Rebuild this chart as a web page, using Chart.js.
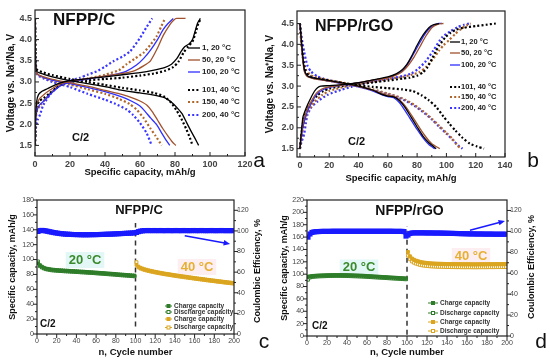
<!DOCTYPE html>
<html lang="en">
<head>
<meta charset="UTF-8">
<title>NFPP/C and NFPP/rGO</title>
<script src="https://cdn.jsdelivr.net/npm/chart.js"></script>
<style>
    body { margin: 0; background: #fff; }
    canvas { position: absolute; }
</style>
</head>
<body>
<canvas id="chartA" width="275" height="182" style="left:0;top:0"></canvas>
<canvas id="chartB" width="288" height="186" style="left:262px;top:0"></canvas>
<canvas id="chartC" width="275" height="181" style="left:0;top:182px"></canvas>
<canvas id="chartD" width="275" height="181" style="left:275px;top:182px"></canvas>

<script>
    // ---- legend labels (cycle, temperature) ----
    const cycleLabels = ['1, 20 °C', '50, 20 °C', '100, 20 °C', '101, 40 °C', '150, 40 °C', '200, 40 °C'];

    // ---- panel a: NFPP/C, [capacity mAh/g, voltage V] ----
    const aChg1 = [[0,1.5],[0.3,2.2],[1,2.55],[2,2.7],[4,2.78],[7,2.84],[10,2.9],[14,2.97],[20,3.03],[30,3.08],[40,3.12],[50,3.17],[60,3.22],[68,3.28],[74,3.34],[78,3.42],[81,3.55],[83.5,3.72],[85.5,3.83],[88,3.9],[90,4.0],[91.5,4.2],[93,4.4],[94.5,4.5]];
    const aDis1 = [[0,4.5],[0.3,3.5],[1,3.25],[5,3.18],[10,3.12],[20,3.03],[30,2.96],[40,2.89],[50,2.8],[60,2.74],[68,2.69],[74,2.63],[78,2.52],[81,2.4],[84,2.25],[86.5,2.05],[89,1.85],[91.5,1.66],[93.5,1.5]];
    const aChg50 = [[0,1.5],[0.3,2.1],[1,2.45],[2.5,2.6],[5,2.7],[9,2.82],[14,2.95],[20,3.02],[30,3.08],[40,3.14],[50,3.2],[57,3.27],[62,3.38],[66,3.5],[70,3.8],[73.3,4.1],[77,4.35],[79.5,4.47],[81,4.5],[86,4.5]];
    const aDis50 = [[0,4.5],[0.3,3.5],[1,3.2],[5,3.12],[10,3.06],[20,2.98],[30,2.9],[40,2.8],[50,2.7],[56,2.62],[60,2.55],[64,2.45],[67,2.3],[70,2.1],[73,1.9],[76,1.72],[78.5,1.58],[80.5,1.5]];
    const aChg100 = [[0,1.5],[0.3,2.0],[1,2.3],[2.5,2.45],[5,2.55],[9,2.72],[14,2.9],[18,2.98],[25,3.04],[35,3.1],[45,3.17],[52,3.25],[58,3.4],[62,3.55],[66,3.75],[70,4.0],[73.3,4.24],[76,4.38],[79,4.5]];
    const aDis100 = [[0,4.5],[0.3,3.5],[1,3.2],[5,3.1],[10,3.04],[20,2.96],[30,2.87],[40,2.77],[50,2.64],[55,2.55],[60,2.43],[63,2.3],[66,2.15],[69.5,1.99],[72,1.82],[75,1.62],[77,1.5]];
    const aChg101 = [[0,1.5],[0.3,2.1],[1,2.42],[2.5,2.55],[5,2.62],[8,2.72],[12,2.85],[16,2.95],[20,3.0],[30,3.04],[40,3.07],[50,3.1],[60,3.15],[68,3.2],[74,3.26],[79,3.35],[82,3.48],[85,3.7],[87.5,3.84],[90,3.95],[92,4.2],[93.5,4.4],[95,4.5]];
    const aDis101 = [[0,4.5],[0.3,3.6],[1,3.3],[5,3.22],[10,3.16],[20,3.07],[30,3.0],[40,2.93],[50,2.86],[60,2.8],[68,2.74],[74,2.65],[78,2.5],[81,2.32],[84,2.1],[86.5,1.88],[88.5,1.68],[90,1.5]];
    const aChg150 = [[0,1.5],[0.3,2.0],[1,2.3],[3,2.45],[6,2.6],[10,2.78],[15,2.93],[20,3.0],[30,3.08],[40,3.17],[48,3.28],[52.4,3.42],[57,3.55],[62,3.69],[66,3.88],[69.5,4.08],[72,4.3],[74.3,4.5]];
    const aDis150 = [[0,4.5],[0.3,3.5],[1,3.2],[5,3.1],[10,3.03],[20,2.94],[30,2.83],[40,2.72],[48,2.6],[54,2.48],[58,2.35],[62,2.15],[66,1.9],[69,1.72],[72.4,1.5]];
    const aChg200 = [[0,1.5],[0.5,1.9],[1.5,2.1],[2.9,2.23],[4.8,2.46],[8.6,2.7],[12.4,2.86],[16.2,2.98],[20,3.03],[25.7,3.1],[30,3.17],[35.2,3.25],[40,3.36],[44.8,3.49],[50,3.6],[54.3,3.72],[60,4.04],[63.5,4.28],[67,4.5]];
    const aDis200 = [[0,4.5],[0.3,3.5],[1,3.18],[5,3.08],[10,3.0],[20,2.88],[30,2.72],[40,2.58],[46,2.48],[52.4,2.35],[56,2.22],[60,2.03],[63.8,1.79],[66.7,1.5]];

    // ---- panel b: NFPP/rGO ----
    const bChg1 = [[0,1.5],[0.7,1.8],[2,2.25],[2.9,2.35],[5.2,2.55],[7.5,2.72],[9.8,2.87],[12,2.96],[14.3,3.0],[20,3.01],[30,3.04],[40,3.08],[50,3.15],[60,3.22],[66,3.3],[70,3.4],[73,3.52],[76,3.7],[80,3.98],[84,4.22],[88,4.4],[91,4.47],[95,4.5]];
    const bDis1 = [[0,4.5],[1,4.1],[2,3.7],[3,3.4],[5,3.25],[8,3.2],[12,3.18],[20,3.13],[30,3.07],[40,3.0],[50,2.9],[56,2.8],[60,2.76],[64,2.74],[68,2.65],[72,2.48],[76,2.25],[80,2.02],[84,1.8],[88,1.64],[93,1.5]];
    const bChg50 = [[0,1.5],[0.7,1.75],[2,2.1],[3,2.25],[5,2.45],[8,2.65],[11,2.82],[15,2.93],[20,2.98],[30,3.03],[40,3.08],[50,3.14],[60,3.2],[66,3.27],[70,3.35],[74,3.5],[78,3.7],[82,3.95],[86,4.2],[90,4.4],[94,4.48],[98,4.5]];
    const bDis50 = [[0,4.5],[1,4.0],[2,3.6],[3,3.35],[5,3.23],[8,3.19],[12,3.16],[20,3.12],[30,3.06],[40,2.99],[50,2.9],[56,2.82],[60,2.78],[65,2.74],[70,2.6],[74,2.42],[78,2.2],[82,1.98],[86,1.78],[90,1.62],[95.5,1.5]];
    const bChg100 = [[0,1.5],[0.7,1.7],[2,2.0],[3,2.15],[5,2.38],[8,2.6],[11,2.78],[15,2.9],[20,2.97],[30,3.03],[40,3.08],[50,3.14],[60,3.21],[66,3.28],[70,3.37],[74,3.55],[78,3.8],[82,4.05],[86,4.28],[90,4.43],[94,4.5],[97,4.5]];
    const bDis100 = [[0,4.5],[1,4.05],[2,3.65],[3,3.38],[5,3.24],[8,3.2],[12,3.17],[20,3.12],[30,3.05],[40,2.98],[50,2.88],[56,2.79],[60,2.75],[64,2.72],[68,2.6],[72,2.4],[76,2.18],[80,1.96],[84,1.76],[88,1.6],[92,1.5]];
    const bChg101 = [[0,1.5],[0.7,1.75],[2,2.1],[3,2.25],[5,2.45],[8,2.62],[12,2.78],[16,2.88],[20,2.94],[30,3.01],[40,3.05],[50,3.09],[60,3.13],[70,3.18],[75,3.2],[80,3.25],[84,3.33],[87,3.45],[90.4,3.67],[93,3.85],[95,3.97],[99.5,4.18],[103,4.28],[106.4,4.35],[112,4.4],[120,4.44],[127,4.47],[133.7,4.5]];
    const bDis101 = [[0,4.5],[1,4.1],[2,3.7],[3.5,3.4],[6,3.25],[9,3.2],[14,3.17],[20,3.13],[30,3.07],[40,3.02],[50,2.98],[60,2.95],[70,2.92],[77,2.88],[83,2.78],[88,2.66],[93,2.5],[98,2.27],[102,2.1],[106,1.94],[111,1.76],[116,1.62],[121,1.55],[125.7,1.5]];
    const bChg150 = [[0,1.5],[1,1.75],[2.5,2.05],[4,2.25],[6,2.42],[10,2.62],[15,2.78],[20,2.88],[30,2.98],[40,3.05],[50,3.11],[60,3.17],[70,3.22],[76,3.27],[81.3,3.33],[86,3.45],[90.4,3.63],[95,3.85],[98,3.98],[101.8,4.1],[106,4.25],[110,4.37],[114,4.46],[116.6,4.5]];
    const bDis150 = [[0,4.5],[1,4.0],[2.5,3.6],[4,3.4],[7,3.27],[10,3.22],[15,3.18],[20,3.14],[30,3.08],[40,3.0],[50,2.92],[60,2.82],[66,2.76],[72,2.67],[78,2.55],[84,2.4],[90,2.22],[95,2.05],[100,1.88],[104,1.74],[107,1.6],[109.8,1.5]];
    const bChg200 = [[0,1.5],[1,1.65],[2.9,1.85],[4,2.1],[5.2,2.32],[8,2.5],[12,2.63],[18.9,2.79],[28,2.91],[35,2.98],[40,3.03],[50,3.1],[60,3.17],[70,3.24],[76,3.3],[81,3.42],[86,3.6],[91,3.85],[97.3,4.18],[103,4.32],[108,4.42],[112,4.47],[115.5,4.5]];
    const bDis200 = [[0,4.5],[1,4.2],[2.9,3.82],[5,3.5],[7.5,3.35],[12,3.23],[16,3.18],[20,3.14],[30,3.06],[40,2.99],[50,2.9],[60,2.8],[66,2.74],[72,2.65],[78,2.53],[84,2.38],[90,2.2],[95,2.03],[100,1.86],[104,1.72],[108,1.58],[111,1.5]];

    // ---- panels c and d: cycling (every second cycle) ----
    const cyc20 = [1,3,5,7,9,11,13,15,17,19,21,23,25,27,29,31,33,35,37,39,41,43,45,47,49,51,53,55,57,59,61,63,65,67,69,71,73,75,77,79,81,83,85,87,89,91,93,95,97,99];
    const cyc40 = [101,103,105,107,109,111,113,115,117,119,121,123,125,127,129,131,133,135,137,139,141,143,145,147,149,151,153,155,157,159,161,163,165,167,169,171,173,175,177,179,181,183,185,187,189,191,193,195,197,199];

    const cChg20 = [95,92.5,90.5,89,88,87.5,87,86.5,86.3,86, 85.8,85.6,85.5,85.3,85.1,85,84.8,84.6,84.5,84.3, 84.2,84,83.8,83.7,83.5,83.3,83.1,83,82.8,82.6, 82.4,82.2,82,81.8,81.6,81.4,81.2,81,80.8,80.6, 80.3,80.1,79.9,79.7,79.5,79.3,79.1,78.9,78.7,78.5];
    const cDis20 = [97.5,91,89.3,88,87,86.5,86,85.5,85.3,85, 84.8,84.6,84.5,84.3,84.1,84,83.8,83.6,83.5,83.3, 83.2,83,82.8,82.7,82.5,82.3,82.1,82,81.8,81.6, 81.4,81.2,81,80.8,80.6,80.4,80.2,80,79.8,79.6, 79.3,79.1,78.9,78.7,78.5,78.3,78.1,77.9,77.7,77.5];
    const cChg40 = [93,90.5,89,88,87,86.3,85.6,85,84.4,83.8, 83.3,82.8,82.3,81.8,81.3,80.9,80.5,80.1,79.6,79.2, 78.8,78.4,78,77.6,77.2,76.9,76.5,76.1,75.8,75.4, 75,74.7,74.3,74,73.6,73.3,72.9,72.6,72.2,71.9, 71.6,71.2,70.9,70.6,70.2,69.9,69.6,69.3,69,68.6];
    const cDis40 = [96.5,89.5,88,87,86.1,85.4,84.7,84.1,83.5,82.9, 82.4,81.9,81.4,80.9,80.4,80,79.6,79.2,78.7,78.3, 77.9,77.5,77.1,76.7,76.3,76,75.6,75.2,74.9,74.5, 74.1,73.8,73.4,73.1,72.7,72.4,72,71.7,71.3,71, 70.7,70.3,70,69.7,69.3,69,68.7,68.4,68.1,67.7];
    const cCE20 = [99.5,100.3,100.5,100.3,100,99.6,99.2,98.8,98.4,98.1, 97.8,97.5,97.3,97.1,96.9,96.8,96.7,96.6,96.5,96.5, 96.4,96.4,96.3,96.3,96.3,96.3,96.3,96.4,96.4,96.4, 96.5,96.5,96.6,96.6,96.7,96.8,96.8,96.9,97,97.1, 97.2,97.3,97.4,97.5,97.6,97.7,97.8,97.9,98,98.2];
    const cCE40 = [98.5,99.3,99.8,100.1,100.3,100.3,100.4,100.3,100.3,100.4, 100.3,100.3,100.4,100.3,100.3,100.3,100.4,100.3,100.3,100.3, 100.4,100.3,100.3,100.3,100.4,100.3,100.3,100.3,100.3,100.4, 100.3,100.3,100.3,100.4,100.3,100.3,100.3,100.3,100.4,100.3, 100.3,100.3,100.3,100.4,100.3,100.3,100.3,100.3,100.3,100.3];

    const dChg20 = [96,96.5,97,97.3,97.6,97.8,98,98.1,98.2,98.3, 98.4,98.5,98.5,98.6,98.6,98.6,98.6,98.6,98.5,98.5, 98.4,98.3,98.2,98.1,98,97.9,97.7,97.6,97.4,97.2, 97,96.8,96.6,96.4,96.2,96,95.8,95.6,95.4,95.2, 95,94.8,94.6,94.4,94.2,94,93.8,93.6,93.4,93.2];
    const dDis20 = [91,94.5,95.5,95.8,96.1,96.3,96.5,96.6,96.7,96.8, 96.9,97,97,97.1,97.1,97.1,97.1,97.1,97,97, 96.9,96.8,96.7,96.6,96.5,96.4,96.2,96.1,95.9,95.7, 95.5,95.3,95.1,94.9,94.7,94.5,94.3,94.1,93.9,93.7, 93.5,93.3,93.1,92.9,92.7,92.5,92.3,92.1,91.9,91.7];
    const dChg40 = [136,129,125.5,123.5,122,121,120,119.3,118.8,118.4, 118,117.7,117.5,117.3,117.1,117,116.9,116.8,116.7,116.6, 116.5,116.5,116.4,116.4,116.3,116.3,116.3,116.2,116.2,116.2, 116.2,116.2,116.1,116.1,116.1,116.1,116.2,116.2,116.2,116.2, 116.3,116.3,116.3,116.3,116.4,116.4,116.4,116.5,116.5,116.5];
    const dDis40 = [130,124,120.5,118.5,117,116,115,114.3,113.8,113.4, 113,112.7,112.5,112.3,112.1,112,111.9,111.8,111.7,111.6, 111.5,111.5,111.4,111.4,111.3,111.3,111.3,111.2,111.2,111.2, 111.2,111.2,111.1,111.1,111.1,111.1,111.2,111.2,111.2,111.2, 111.3,111.3,111.3,111.3,111.4,111.4,111.4,111.5,111.5,111.5];
    const dCE20 = [94.5,97.5,99,99.5,99.7,99.8,99.9,100,100,100, 100,100,100.1,100.1,100.1,100.1,100.1,100.1,100.1,100.1, 100.1,100.1,100.1,100.1,100.1,100.1,100.1,100.1,100.1,100.1, 100.1,100.1,100.1,100.1,100.1,100.1,100.1,100.1,100.1,100.1, 100.1,100.1,100.1,100,100,100,100,100,99.8,95.5];
    const dCE40 = [96.5,98,98.5,98.6,98.6,98.6,98.6,98.6,98.6,98.5, 98.5,98.5,98.5,98.4,98.4,98.4,98.4,98.3,98.3,98.2, 98.2,98.1,98.1,98,98,97.9,97.9,97.8,97.8,97.7, 97.7,97.6,97.6,97.6,97.5,97.5,97.5,97.5,97.4,97.4, 97.4,97.4,97.4,97.3,97.3,97.3,97.3,97.3,97.3,97.3];

    // dashed divider between 20 and 40 °C, and the blue arrows [cycle, mAh/g]
    const splitCycle = 100;
    const cSplitRange = [10, 149];
    const dSplitRange = [2, 177];
    const cArrow = [[150, 132], [196, 121]];
    const dArrow = [[163, 171], [198, 186]];

    // tick values
    const aXTicks = [0, 20, 40, 60, 80, 100, 120];
    const bXTicks = [0, 20, 40, 60, 80, 100, 120, 140];
    const vTicks = [1.5, 2.0, 2.5, 3.0, 3.5, 4.0, 4.5];
    const cycTicks = [0, 20, 40, 60, 80, 100, 120, 140, 160, 180, 200];
    const cYTicks = [0, 20, 40, 60, 80, 100, 120, 140, 160, 180];
    const dYTicks = [0, 20, 40, 60, 80, 100, 120, 140, 160, 180, 200, 220];
    const ceTicks = [0, 20, 40, 60, 80, 100, 120];

    const FONT = 'Arial, "Liberation Sans", sans-serif';
    Chart.defaults.font.family = FONT;
    Chart.defaults.animation = false;
    Chart.defaults.plugins.legend.display = false;
    Chart.defaults.plugins.tooltip.enabled = false;

    const curveColors = ['#000000', '#a0522d', '#2f2fff', '#000000', '#b0662a', '#3a35ff'];
    const GREEN = '#2f7d2a', GOLD = '#dba520', BLUE = '#1a1aff';

    // frame, ticks, free texts, legends, arrows
    const panelDecor = {
        id: 'panelDecor',
        beforeDatasetsDraw(chart, args, o) {
            // pale highlight boxes behind the temperature labels
            const ctx = chart.ctx;
            (o.texts || []).filter(t => t.bg).forEach(t => {
                ctx.save();
                ctx.font = t.font;
                const w = ctx.measureText(t.text).width + 6;
                ctx.fillStyle = t.bg;
                ctx.fillRect(t.x - w / 2, t.y - 8, w, 16);
                ctx.restore();
            });
        },
        afterDraw(chart, args, o) {
            const ctx = chart.ctx, ca = chart.chartArea;
            ctx.save();
            ctx.strokeStyle = '#222';
            ctx.lineWidth = 1;
            const dir = o.tickDir || 1;
            Object.values(chart.scales).forEach(s => {
                const vals = s.ticks.map(t => t.value);
                const mark = (v, len) => {
                    const p = s.getPixelForValue(v);
                    ctx.beginPath();
                    if (s.axis === 'x') { ctx.moveTo(p, ca.bottom); ctx.lineTo(p, ca.bottom - len * dir); }
                    else if (s.position === 'left') { ctx.moveTo(ca.left, p); ctx.lineTo(ca.left + len * dir, p); }
                    else { ctx.moveTo(ca.right, p); ctx.lineTo(ca.right - len * dir, p); }
                    ctx.stroke();
                };
                vals.forEach(v => mark(v, 4));
                for (let i = 0; i < vals.length - 1; i++) mark((vals[i] + vals[i + 1]) / 2, 2);
            });
            ctx.lineWidth = 1.2;
            ctx.strokeRect(ca.left, ca.top, ca.right - ca.left, ca.bottom - ca.top);

            (o.texts || []).forEach(t => {
                ctx.save();
                ctx.font = t.font;
                ctx.fillStyle = t.color || '#111';
                ctx.textAlign = t.align || 'left';
                ctx.textBaseline = 'middle';
                ctx.translate(t.x, t.y);
                if (t.rot) ctx.rotate(t.rot);
                ctx.fillText(t.text, 0, 0);
                ctx.restore();
            });

            const lg = o.legend;
            if (lg) {
                lg.rows.forEach(r => {
                    const ds = chart.data.datasets[r.ds];
                    ctx.save();
                    ctx.strokeStyle = ds.borderColor;
                    ctx.lineWidth = lg.lineWidth || ds.borderWidth;
                    ctx.setLineDash(ds.borderDash || []);
                    ctx.beginPath();
                    ctx.moveTo(lg.x0, r.y);
                    ctx.lineTo(lg.x1, r.y);
                    ctx.stroke();
                    ctx.setLineDash([]);
                    if (lg.marker) {
                        const m = (lg.x0 + lg.x1) / 2;
                        ctx.fillStyle = ds.pointBackgroundColor;
                        ctx.fillRect(m - 1.5, r.y - 1.5, 3, 3);
                        ctx.lineWidth = 1;
                        ctx.strokeRect(m - 1.5, r.y - 1.5, 3, 3);
                    }
                    ctx.restore();
                    ctx.font = lg.font;
                    ctx.fillStyle = lg.color || '#222';
                    ctx.textAlign = 'left';
                    ctx.textBaseline = 'middle';
                    ctx.fillText(ds.label, lg.tx, r.y);
                });
            }

            (o.arrows || []).forEach(a => {
                const xs = chart.scales.x, ys = chart.scales.y;
                const x1 = xs.getPixelForValue(a.from[0]), y1 = ys.getPixelForValue(a.from[1]);
                const x2 = xs.getPixelForValue(a.to[0]), y2 = ys.getPixelForValue(a.to[1]);
                const ang = Math.atan2(y2 - y1, x2 - x1);
                ctx.strokeStyle = a.color;
                ctx.fillStyle = a.color;
                ctx.lineWidth = 1.6;
                ctx.beginPath();
                ctx.moveTo(x1, y1);
                ctx.lineTo(x2 - 4 * Math.cos(ang), y2 - 4 * Math.sin(ang));
                ctx.stroke();
                ctx.beginPath();
                ctx.moveTo(x2, y2);
                ctx.lineTo(x2 - 7 * Math.cos(ang - 0.4), y2 - 7 * Math.sin(ang - 0.4));
                ctx.lineTo(x2 - 7 * Math.cos(ang + 0.4), y2 - 7 * Math.sin(ang + 0.4));
                ctx.closePath();
                ctx.fill();
            });
            ctx.restore();
        }
    };

    function axisOpts(min, max, values, size, tickFont, title, titleFont, titlePad, extra) {
        return Object.assign({
            type: 'linear',
            min: min,
            max: max,
            afterBuildTicks: s => { s.ticks = values.map(v => ({ value: v })); },
            afterFit: s => { if (s.isHorizontal()) s.height = size; else s.width = size; },
            grid: { display: false, drawTicks: false },
            border: { display: false },
            ticks: { font: tickFont, color: '#444', padding: 3, autoSkip: false, maxRotation: 0 },
            title: { display: !!title, text: title, font: titleFont, color: '#111', padding: titlePad }
        }, extra || {});
    }

    // charge and discharge of one cycle share colour and dash
    function voltageSets(charge, discharge) {
        const sets = [];
        charge.forEach((c, i) => {
            const dotted = i >= 3;
            [c, discharge[i]].forEach(pts => sets.push({
                label: cycleLabels[i],
                data: pts.map(p => ({ x: p[0], y: p[1] })),
                borderColor: curveColors[i],
                borderWidth: dotted ? 2.2 : 1.3,
                borderDash: dotted ? [2, 2.2] : [],
                pointRadius: 0,
                tension: 0.2,
                fill: false
            }));
        });
        return sets;
    }

    function capSet(label, xs, ys, color, open, axisId) {
        return {
            label: label,
            data: xs.map((x, i) => ({ x: x, y: ys[i] })),
            yAxisID: axisId,
            borderColor: color,
            borderWidth: 1,
            pointStyle: 'rect',
            pointRadius: 2,
            pointBorderWidth: 1,
            pointBorderColor: color,
            pointBackgroundColor: open ? '#ffffff' : color,
            showLine: true
        };
    }

    function ceSet(xs, ys) {
        return {
            data: xs.map((x, i) => ({ x: x, y: ys[i] })),
            yAxisID: 'y2',
            borderColor: BLUE,
            borderWidth: 3,
            pointStyle: 'rect',
            pointRadius: 1.5,
            pointBackgroundColor: BLUE,
            pointBorderColor: BLUE
        };
    }

    function splitSet(range) {
        return {
            data: [{ x: splitCycle, y: range[0] }, { x: splitCycle, y: range[1] }],
            yAxisID: 'y',
            borderColor: '#333',
            borderWidth: 1.5,
            borderDash: [5, 4],
            pointRadius: 0
        };
    }

    const fmt1 = v => v.toFixed(1);
    const voltTitle = 'Voltage vs. Na\u207A/Na, V';
    const ceTitle = 'Coulombic Efficiency, %';

    // ---- a ----
    new Chart(document.getElementById('chartA'), {
        type: 'line',
        data: { datasets: voltageSets([aChg1, aChg50, aChg100, aChg101, aChg150, aChg200], [aDis1, aDis50, aDis100, aDis101, aDis150, aDis200]) },
        options: {
            responsive: false,
            layout: { padding: { left: 0, top: 10, right: 30, bottom: 0 } },
            scales: {
                x: axisOpts(0, 120, aXTicks, 26, { size: 9, weight: 'bold' }, 'Specific capacity, mAh/g', { size: 9.5, weight: 'bold' }, { top: 0, bottom: 4 }),
                y: axisOpts(1.25, 4.7, vTicks, 35, { size: 9, weight: 'bold' }, voltTitle, { size: 10, weight: 'bold' }, { top: 5, bottom: 0 },
                    { ticks: { font: { size: 9, weight: 'bold' }, color: '#444', padding: 3, autoSkip: false, callback: fmt1 } })
            },
            plugins: {
                panelDecor: {
                    tickDir: 1,
                    texts: [
                        { text: 'NFPP/C', x: 53, y: 20, font: 'bold 17px ' + FONT },
                        { text: 'C/2', x: 72, y: 138, font: 'bold 11px ' + FONT },
                        { text: 'a', x: 259, y: 161, font: '21px ' + FONT, align: 'center' }
                    ],
                    legend: {
                        x0: 188, x1: 200, tx: 202, font: 'bold 8px ' + FONT,
                        rows: [{ ds: 0, y: 48 }, { ds: 2, y: 60 }, { ds: 4, y: 72 }, { ds: 6, y: 90 }, { ds: 8, y: 102 }, { ds: 10, y: 115 }]
                    }
                }
            }
        },
        plugins: [panelDecor]
    });

    // ---- b ----
    new Chart(document.getElementById('chartB'), {
        type: 'line',
        data: { datasets: voltageSets([bChg1, bChg50, bChg100, bChg101, bChg150, bChg200], [bDis1, bDis50, bDis100, bDis101, bDis150, bDis200]) },
        options: {
            responsive: false,
            layout: { padding: { left: 0, top: 11, right: 45, bottom: 0 } },
            scales: {
                x: axisOpts(-2, 140, bXTicks, 29, { size: 9, weight: 'bold' }, 'Specific capacity, mAh/g', { size: 9.5, weight: 'bold' }, { top: 0, bottom: 2 }),
                y: axisOpts(1.3, 4.8, vTicks, 35, { size: 9, weight: 'bold' }, voltTitle, { size: 10, weight: 'bold' }, { top: 2, bottom: 0 },
                    { ticks: { font: { size: 9, weight: 'bold' }, color: '#444', padding: 3, autoSkip: false, callback: fmt1 } })
            },
            plugins: {
                panelDecor: {
                    tickDir: 1,
                    texts: [
                        { text: 'NFPP/rGO', x: 53, y: 27, font: 'bold 16px ' + FONT },
                        { text: 'C/2', x: 86, y: 142, font: 'bold 11px ' + FONT },
                        { text: 'b', x: 271, y: 161, font: '21px ' + FONT, align: 'center' }
                    ],
                    legend: {
                        x0: 188, x1: 198, tx: 199, font: 'bold 7.5px ' + FONT,
                        rows: [{ ds: 0, y: 42 }, { ds: 2, y: 53 }, { ds: 4, y: 65 }, { ds: 6, y: 87 }, { ds: 8, y: 97 }, { ds: 10, y: 108 }]
                    }
                }
            }
        },
        plugins: [panelDecor]
    });

    // ---- c ----
    new Chart(document.getElementById('chartC'), {
        type: 'line',
        data: {
            datasets: [
                capSet('Charge capacity', cyc20, cChg20, GREEN, false, 'y'),
                capSet('Discharge capacity', cyc20, cDis20, GREEN, true, 'y'),
                capSet('Charge capacity', cyc40, cChg40, GOLD, false, 'y'),
                capSet('Discharge capacity', cyc40, cDis40, GOLD, true, 'y'),
                ceSet(cyc20, cCE20),
                ceSet(cyc40, cCE40),
                splitSet(cSplitRange)
            ]
        },
        options: {
            responsive: false,
            layout: { padding: { left: 0, top: 18, right: 10, bottom: 0 } },
            scales: {
                x: axisOpts(0, 200, cycTicks, 29, { size: 7 }, 'n, Cycle number', { size: 9.5, weight: 'bold' }, { top: 0, bottom: 5 }),
                y: axisOpts(0, 180, cYTicks, 37, { size: 7 }, 'Specific capacity, mAh/g', { size: 9, weight: 'bold' }, { top: 7, bottom: 0 }),
                y2: axisOpts(0, 130, ceTicks, 31, { size: 7 }, '', null, 0, { position: 'right' })
            },
            plugins: {
                panelDecor: {
                    tickDir: -1,
                    texts: [
                        { text: 'NFPP/C', x: 139, y: 28, font: 'bold 13px ' + FONT, align: 'center' },
                        { text: '20 °C', x: 85, y: 78, font: 'bold 13px ' + FONT, align: 'center', color: '#3a8a2c', bg: '#e3f8f6' },
                        { text: '40 °C', x: 197, y: 85, font: 'bold 13px ' + FONT, align: 'center', color: '#e6b034', bg: '#fdeef2' },
                        { text: 'C/2', x: 40, y: 142, font: 'bold 10px ' + FONT },
                        { text: ceTitle, x: 258, y: 89, font: 'bold 9px ' + FONT, align: 'center', rot: -Math.PI / 2 },
                        { text: 'c', x: 264, y: 160, font: '21px ' + FONT, align: 'center' }
                    ],
                    legend: {
                        x0: 165, x1: 172, tx: 174, font: 'bold 6.5px ' + FONT, marker: true, lineWidth: 1, color: '#333',
                        rows: [{ ds: 0, y: 124 }, { ds: 1, y: 130 }, { ds: 2, y: 137 }, { ds: 3, y: 145.5 }]
                    },
                    arrows: [{ from: cArrow[0], to: cArrow[1], color: BLUE }]
                }
            }
        },
        plugins: [panelDecor]
    });

    // ---- d ----
    new Chart(document.getElementById('chartD'), {
        type: 'line',
        data: {
            datasets: [
                capSet('Charge capacity', cyc20, dChg20, GREEN, false, 'y'),
                capSet('Discharge capacity', cyc20, dDis20, GREEN, true, 'y'),
                capSet('Charge capacity', cyc40, dChg40, GOLD, false, 'y'),
                capSet('Discharge capacity', cyc40, dDis40, GOLD, true, 'y'),
                ceSet(cyc20, dCE20),
                ceSet(cyc40, dCE40),
                splitSet(dSplitRange)
            ]
        },
        options: {
            responsive: false,
            layout: { padding: { left: 0, top: 18, right: 13, bottom: 0 } },
            scales: {
                x: axisOpts(0, 200, cycTicks, 27, { size: 7 }, 'n, Cycle number', { size: 9.5, weight: 'bold' }, { top: 0, bottom: 4.5 }),
                y: axisOpts(0, 220, dYTicks, 32, { size: 7 }, 'Specific capacity, mAh/g', { size: 9, weight: 'bold' }, { top: 4.5, bottom: 0 }),
                y2: axisOpts(0, 130, ceTicks, 30, { size: 7 }, '', null, 0, { position: 'right' })
            },
            plugins: {
                panelDecor: {
                    tickDir: -1,
                    texts: [
                        { text: 'NFPP/rGO', x: 134.5, y: 29.5, font: 'bold 14px ' + FONT, align: 'center' },
                        { text: '20 °C', x: 84, y: 85.5, font: 'bold 13px ' + FONT, align: 'center', color: '#3a8a2c', bg: '#e3f8f6' },
                        { text: '40 °C', x: 196, y: 74, font: 'bold 13px ' + FONT, align: 'center', color: '#e6b034', bg: '#fdeef2' },
                        { text: 'C/2', x: 37, y: 144, font: 'bold 10px ' + FONT },
                        { text: ceTitle, x: 257, y: 85, font: 'bold 9px ' + FONT, align: 'center', rot: -Math.PI / 2 },
                        { text: 'd', x: 266, y: 160, font: '21px ' + FONT, align: 'center' }
                    ],
                    legend: {
                        x0: 153, x1: 163, tx: 165, font: 'bold 6.5px ' + FONT, marker: true, lineWidth: 1, color: '#333',
                        rows: [{ ds: 0, y: 121 }, { ds: 1, y: 131 }, { ds: 2, y: 140 }, { ds: 3, y: 149 }]
                    },
                    arrows: [{ from: dArrow[0], to: dArrow[1], color: BLUE }]
                }
            }
        },
        plugins: [panelDecor]
    });
</script>
</body>
</html>
